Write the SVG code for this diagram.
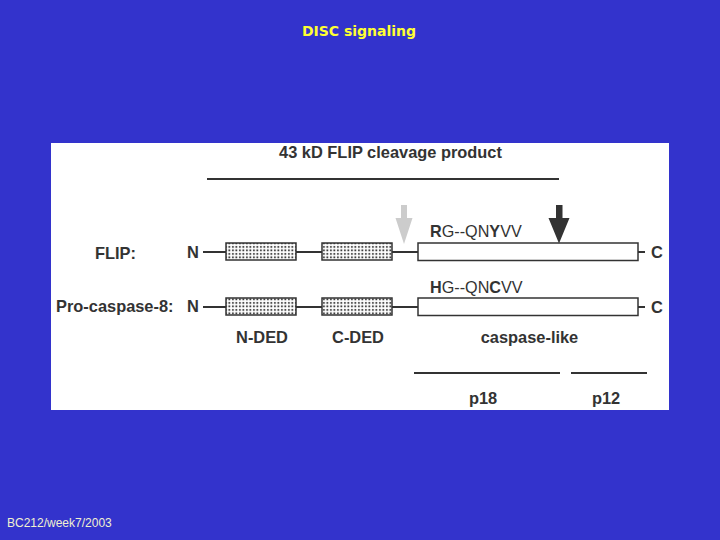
<svg xmlns="http://www.w3.org/2000/svg" width="720" height="540" viewBox="0 0 720 540">
<defs>
<pattern id="dots" width="3.5" height="3.5" patternUnits="userSpaceOnUse">
<rect width="3.5" height="3.5" fill="#ffffff"/>
<rect x="1" y="1" width="1.8" height="1.8" fill="#333333"/>
</pattern>
</defs>
<style>
.lbl{font-family:"Liberation Sans",Arial,sans-serif;font-weight:bold;font-size:16.4px;fill:#333333}
.seq{font-family:"Liberation Sans",Arial,sans-serif;font-size:16.2px;fill:#333333}
.ln{stroke:#333333;stroke-width:2;fill:none}
.ded{fill:url(#dots);stroke:#333333;stroke-width:1.5}
.cas{fill:#ffffff;stroke:#333333;stroke-width:1.5}
</style>
<rect width="720" height="540" fill="#3333cc"/>
<text x="359" y="36" text-anchor="middle" font-family="'DejaVu Sans',sans-serif" font-weight="bold" font-size="14" fill="#ffff33">DISC signaling</text>
<rect x="51" y="143" width="618" height="267" fill="#ffffff"/>
<g id="title"><text class="lbl" x="390.5" y="158" text-anchor="middle">43 kD FLIP cleavage product</text>
<line class="ln" x1="207" y1="179" x2="559" y2="179"/></g>
<g id="connectors">
<line class="ln" x1="203" y1="252" x2="226" y2="252"/>
<line class="ln" x1="296" y1="252" x2="322" y2="252"/>
<line class="ln" x1="392" y1="252" x2="418" y2="252"/>
<line class="ln" x1="638" y1="252" x2="645" y2="252"/>
<line class="ln" x1="203" y1="307" x2="226" y2="307"/>
<line class="ln" x1="296" y1="307" x2="322" y2="307"/>
<line class="ln" x1="392" y1="307" x2="418" y2="307"/>
<line class="ln" x1="638" y1="307" x2="645" y2="307"/>
</g>
<g id="flip">
<text class="lbl" x="95" y="259">FLIP:</text>
<text class="lbl" x="187" y="258">N</text>
<rect class="ded" x="226" y="243" width="70" height="17"/>
<rect class="ded" x="322" y="243" width="70" height="17"/>
<rect class="cas" x="418" y="243" width="220" height="17.5"/>
<text class="lbl" x="651" y="258">C</text>
<text class="seq" x="430" y="237"><tspan font-weight="bold">R</tspan>G--QN<tspan font-weight="bold">Y</tspan>VV</text>
</g>
<g id="procaspase8">
<text class="lbl" x="56" y="312">Pro-caspase-8:</text>
<text class="lbl" x="187" y="312">N</text>
<rect class="ded" x="226" y="298" width="70" height="17"/>
<rect class="ded" x="322" y="298" width="70" height="17"/>
<rect class="cas" x="418" y="298" width="220" height="17.5"/>
<text class="lbl" x="651" y="313">C</text>
<text class="seq" x="430" y="293"><tspan font-weight="bold">H</tspan>G--QN<tspan font-weight="bold">C</tspan>VV</text>
</g>
<g id="arrows">
<polygon points="401,205 407,205 407,218 412.5,218 404,244 395.5,218 401,218" fill="#cccccc"/>
<polygon points="556,205 562.5,205 562.5,218 569.5,218 559,243.5 548.5,218 556,218" fill="#333333"/>
</g>
<g id="domains">
<text class="lbl" x="262" y="343" text-anchor="middle">N-DED</text>
<text class="lbl" x="358" y="343" text-anchor="middle">C-DED</text>
<text class="lbl" x="529.5" y="343" text-anchor="middle">caspase-like</text>
</g>
<g id="subunits">
<line class="ln" x1="414" y1="373" x2="560" y2="373"/>
<line class="ln" x1="571" y1="373" x2="647" y2="373"/>
<text class="lbl" x="483" y="404" text-anchor="middle">p18</text>
<text class="lbl" x="606" y="404" text-anchor="middle">p12</text>
</g>
<text x="7" y="527" font-family="'Liberation Sans',Arial,sans-serif" font-size="12" fill="#f0f0d0">BC212/week7/2003</text>
</svg>
